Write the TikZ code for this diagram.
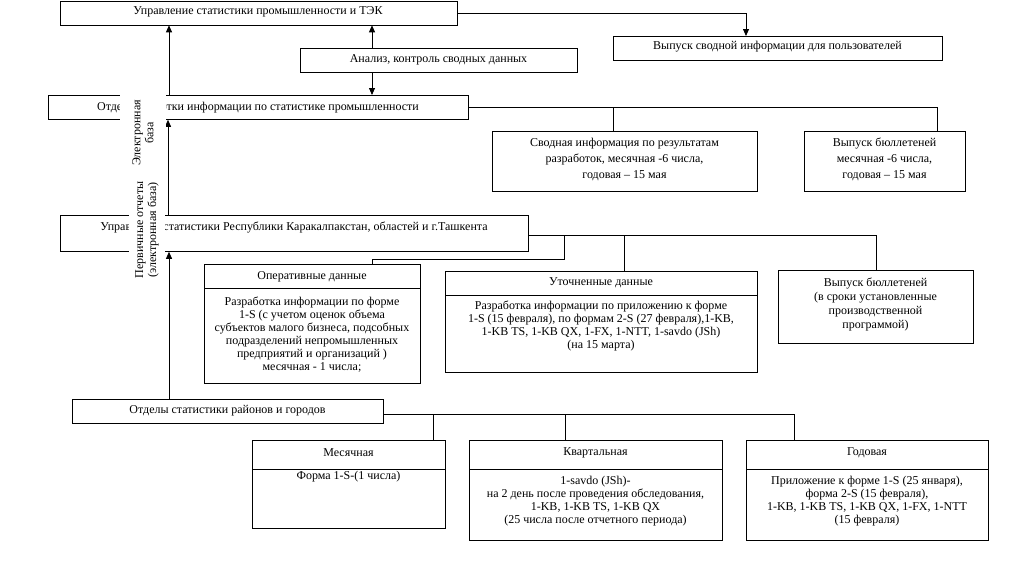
\documentclass[tikz,border=0pt]{standalone}
\usepackage{fontspec}
\setmainfont{Liberation Serif}
\usetikzlibrary{arrows.meta}
\begin{document}
\begin{tikzpicture}[x=1pt,y=-1pt,
  box/.style={draw, line width=0.8pt, inner sep=0pt, anchor=north west},
  txt/.style={inner sep=0pt, align=center, font=\fontsize{12}{13}\selectfont},
  ln/.style={line width=0.8pt},
  arr/.style={ln, -{Triangle[length=7pt,width=6pt]}},
  lbl/.style={fill=white, inner sep=0pt, rotate=90, align=center, font=\fontsize{12}{13}\selectfont}
]
\fill[white] (0,0) rectangle (1021,574);
\useasboundingbox (0,0) rectangle (1021,574);
% helper coordinates
\coordinate (X168) at (168,0); \coordinate (X169) at (169,0);
\coordinate (X372) at (372,0); \coordinate (X433) at (433,0);
\coordinate (X564) at (564,0); \coordinate (X565) at (565,0);
\coordinate (X613) at (613,0); \coordinate (X624) at (624,0);
\coordinate (X746) at (746,0); \coordinate (X794) at (794,0);
\coordinate (X937) at (937,0);
\coordinate (Y235) at (0,235); \coordinate (Y259) at (0,259); \coordinate (Y414) at (0,414);
% boxes
\node[box, minimum width=397pt, minimum height=24pt] (b1) at (60,0.5) {};
\node[box, minimum width=329pt, minimum height=24pt] (vyp0) at (613,36) {};
\node[box, minimum width=277pt, minimum height=24pt] (an) at (300,48) {};
\node[box, minimum width=420pt, minimum height=24pt] (b2) at (48,95) {};
\node[box, minimum width=265pt, minimum height=60pt] (svod) at (492,131) {};
\node[box, minimum width=161pt, minimum height=60pt] (vyp1) at (804,131) {};
\node[box, minimum width=468pt, minimum height=36pt] (b3) at (60,215) {};
\node[box, minimum width=216pt, minimum height=24pt] (oprh) at (204,264) {};
\node[box, minimum width=216pt, minimum height=95pt] (oprb) at (204,288) {};
\node[box, minimum width=312pt, minimum height=24pt] (utoh) at (445,271) {};
\node[box, minimum width=312pt, minimum height=77pt] (utob) at (445,295) {};
\node[box, minimum width=195pt, minimum height=73pt] (vyp2) at (778,270) {};
\node[box, minimum width=311pt, minimum height=24pt] (otd) at (72,399) {};
\node[box, minimum width=193pt, minimum height=29pt] (mesh) at (252,440) {};
\node[box, minimum width=193pt, minimum height=59pt] (mesb) at (252,469) {};
\node[box, minimum width=253pt, minimum height=29pt] (kvh) at (469,440) {};
\node[box, minimum width=253pt, minimum height=71pt] (kvb) at (469,469) {};
\node[box, minimum width=242pt, minimum height=29pt] (godh) at (746,440) {};
\node[box, minimum width=242pt, minimum height=71pt] (godb) at (746,469) {};
% texts
\node[txt] (t1) at (258,12) {Управление статистики промышленности и ТЭК};
\node[txt] (t2) at (777.5,47) {Выпуск сводной информации для пользователей};
\node[txt] (t3) at (438.5,60) {Анализ, контроль сводных данных};
\node[txt] (t4) at (258,107) {Отдел обработки информации по статистике промышленности};
\node[txt, font=\fontsize{12}{16}\selectfont] (t5) at (624.5,159) {Сводная информация по результатам\\разработок, месячная -6 числа,\\годовая – 15 мая};
\node[txt, font=\fontsize{12}{16}\selectfont] (t6) at (884.5,159) {Выпуск бюллетеней\\месячная -6 числа,\\годовая – 15 мая};
\node[txt] (t7) at (294,227) {Управление статистики Республики Каракалпакстан, областей и г.Ташкента};
\node[txt] (t8) at (312,277) {Оперативные данные};
\node[txt] (t9) at (312,334.5) {Разработка информации по форме\\1-S (с учетом оценок объема\\субъектов малого бизнеса, подсобных\\подразделений непромышленных\\предприятий и организаций )\\месячная - 1 числа;};
\node[txt] (t10) at (601,283) {Уточненные данные};
\node[txt] (t11) at (601,326) {Разработка информации по приложению к форме\\1-S (15 февраля), по формам 2-S (27 февраля),1-KB,\\1-KB TS, 1-KB QX, 1-FX, 1-NTT, 1-savdo (JSh)\\(на 15 марта)};
\node[txt, font=\fontsize{12}{14}\selectfont] (t12) at (875.5,304.5) {Выпуск бюллетеней\\(в сроки установленные\\производственной\\программой)};
\node[txt] (t13) at (227.5,411) {Отделы статистики районов и городов};
\node[txt] (t14) at (348.5,453) {Месячная};
\node[txt] (t15) at (348.5,477) {Форма 1-S-(1 числа)};
\node[txt] (t16) at (595.5,453) {Квартальная};
\node[txt] (t17) at (595.5,501) {1-savdo (JSh)-\\на 2 день после проведения обследования,\\1-KB, 1-KB TS, 1-KB QX\\(25 числа после отчетного периода)};
\node[txt] (t18) at (867,453) {Годовая};
\node[txt] (t19) at (867,501) {Приложение к форме 1-S (25 января),\\форма 2-S (15 февраля),\\1-KB, 1-KB TS, 1-KB QX, 1-FX, 1-NTT\\(15 февраля)};
% connectors
\draw[arr] (b1.east) -| (vyp0.north -| X746);
\draw[arr] (an.north -| X372) -- (b1.south -| X372);
\draw[arr] (an.south -| X372) -- (b2.north -| X372);
\draw[arr] (b2.north -| X169) -- (b1.south -| X169);
\draw[ln] (b2.east) -| (vyp1.north -| X937);
\draw[ln] (b2.east -| X613) -- (svod.north -| X613);
\draw[arr] (b3.north -| X168) -- (b2.south -| X168);
\draw[ln] (b3.east |- Y235) -| (vyp2.north);
\draw[ln] (X564 |- Y235) -- (X564 |- Y259) -| (oprh.north -| X372);
\draw[ln] (X624 |- Y235) -- (utoh.north -| X624);
\draw[arr] (otd.north -| X169) -- (b3.south -| X169);
\draw[ln] (otd.east |- Y414) -| (godh.north -| X794);
\draw[ln] (X433 |- Y414) -- (mesh.north -| X433);
\draw[ln] (X565 |- Y414) -- (kvh.north -| X565);
% rotated labels
\node[lbl, minimum width=80pt, minimum height=46pt] (l1) at (143,133) {Электронная\\база};
\node[lbl, minimum width=110pt, minimum height=36pt] (l2) at (147,230) {Первичные отчеты\\(электронная база)};
\end{tikzpicture}
\end{document}
